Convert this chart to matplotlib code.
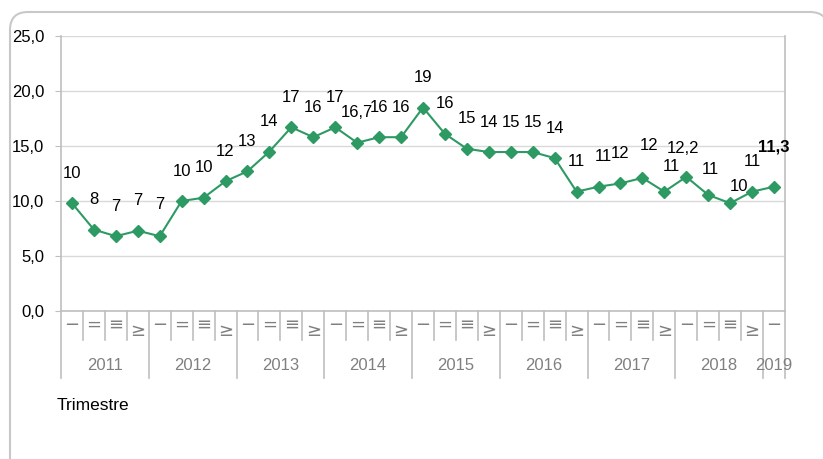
"""
Quarterly series 2011-2019 (line with diamond markers and data labels).
Saves out.png (823x459).
"""
import matplotlib.pyplot as plt
import matplotlib.transforms as mtransforms
from matplotlib.patches import FancyBboxPatch
import numpy as np

plt.rcParams['font.family'] = ['Liberation Sans', 'DejaVu Sans']

years = ["2011", "2012", "2013", "2014", "2015", "2016", "2017", "2018", "2019"]
quarters_per_year = [4, 4, 4, 4, 4, 4, 4, 4, 1]
quarter_marks = ["\u2212", "=", "\u2261", "\u2265"]

values = [9.8, 7.4, 6.8, 7.3, 6.8, 10.0, 10.3, 11.8, 12.7, 14.5, 16.7, 15.8,
          16.7, 15.3, 15.8, 15.8, 18.5, 16.1, 14.75, 14.45, 14.45, 14.45, 13.9,
          10.85, 11.3, 11.6, 12.1, 10.85, 12.2, 10.55, 9.8, 10.85, 11.3]
labels = ["10", "8", "7", "7", "7", "10", "10", "12", "13", "14", "17", "16",
          "17", "16,7", "16", "16", "19", "16", "15", "14", "15", "15", "14",
          "11", "11", "12", "12", "11", "12,2", "11", "10", "11", "11,3"]

GREEN = "#2E9A63"
GRAY = "#BFBFBF"
TXT_GRAY = "#808080"

# label placement tweaks (pixels): index -> (dx, dy)
label_offsets = {4: (0, 32), 24: (5, 30), 26: (7, 32), 27: (7, 25),
                 28: (-3, 28), 29: (2, 25), 30: (9, 17), 32: (0, 40)}
# vertical centre of each quarter glyph below the axis (pixels)
mark_drop = [14, 14, 14, 20]

fig = plt.figure(figsize=(8.23, 4.59), dpi=100)

# outer rounded frame, drawn in pixel coordinates
bg = fig.add_axes([0, 0, 1, 1], zorder=0)
bg.set_xlim(0, 823)
bg.set_ylim(459, 0)
bg.axis("off")
bg.add_patch(FancyBboxPatch((10, 12), 818, 480,
                            boxstyle="round,pad=0,rounding_size=18",
                            fc="white", ec="#C8C8C8", lw=1.5))
bg.text(57, 405, "Trimestre", fontsize=12.5, va="center", ha="left",
        color="black")

ax = fig.add_axes([61 / 823, 1 - 311 / 459, 724 / 823, 275 / 459], zorder=1)
ax.patch.set_alpha(0)

x = np.arange(len(values))
ax.plot(x, values, color=GREEN, lw=1.5, marker="D", markersize=6.5,
        markeredgecolor=GREEN, markerfacecolor=GREEN, zorder=3)

for i, (v, lab) in enumerate(zip(values, labels)):
    dx, dy = label_offsets.get(i, (0, 30))
    ax.annotate(lab, (i, v), xytext=(dx, dy), textcoords="offset pixels",
                ha="center", va="center", fontsize=12,
                fontweight="bold" if i == len(values) - 1 else "normal")

ax.set_xlim(-0.5, len(values) - 0.5)
ax.set_ylim(0, 25)
yticks = np.arange(0, 26, 5)
ax.set_yticks(yticks)
ax.set_yticklabels([f"{t:.1f}".replace(".", ",") for t in yticks], fontsize=12)
ax.tick_params(axis="y", length=4, color=GRAY, pad=8)
ax.set_xticks([])
ax.grid(axis="y", color="#D9D9D9", lw=1)
ax.set_axisbelow(True)

ax.spines["top"].set_visible(False)
for side in ["left", "right", "bottom"]:
    ax.spines[side].set_color(GRAY)
    ax.spines[side].set_linewidth(1.2)

# multi-level category axis
trans = mtransforms.blended_transform_factory(ax.transData, ax.transAxes)
h = 275.0
q_len = -29 / h
y_len = -67 / h
year_bounds = np.concatenate([[0], np.cumsum(quarters_per_year)]) - 0.5
for b in np.arange(-0.5, len(values)):
    bottom = y_len if b in year_bounds else q_len
    ax.plot([b, b], [0, bottom], transform=trans, color=GRAY, lw=1.2,
            clip_on=False)

i = 0
for yr, nq in zip(years, quarters_per_year):
    for q in range(nq):
        ax.text(i + q, -mark_drop[q] / h, quarter_marks[q], transform=trans,
                ha="center", va="center", fontsize=13, color=TXT_GRAY,
                family="DejaVu Sans")
    ax.text(i + (nq - 1) / 2, -54 / h, yr, transform=trans, ha="center",
            va="center", fontsize=12, color=TXT_GRAY)
    i += nq

fig.savefig("out.png", dpi=100)
